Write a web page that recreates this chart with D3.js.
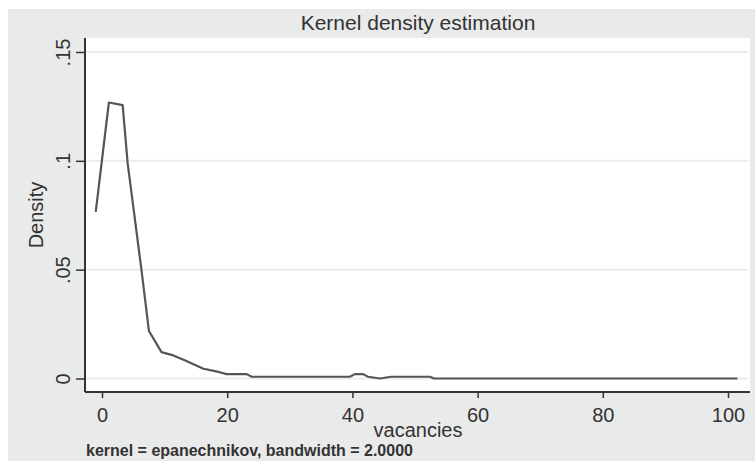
<!DOCTYPE html>
<html>
<head>
<meta charset="utf-8">
<script src="https://cdn.jsdelivr.net/npm/d3@7"></script>
<style>
  body { margin: 0; background: #fff; }
  text { font-family: "Liberation Sans", Arial, sans-serif; fill: #333; }
</style>
</head>
<body>
<div id="my_dataviz"></div>
<script>
// values
let vacancies = [-1, 1.1, 3.3, 4.1, 6.3, 7.5, 9.5, 11.4, 13.3, 16.2, 18.8, 19.9, 23.1, 23.9, 39.6, 40.4, 41.7, 42.5, 44.4, 46.2, 52.4, 53, 101.5];
let density = [0.0765, 0.1268, 0.1256, 0.0988, 0.05, 0.0218, 0.0121, 0.0106, 0.0083, 0.0045, 0.0029, 0.0020, 0.0020, 0.0008, 0.0008, 0.0020, 0.0020, 0.0008, 0.0, 0.0008, 0.0008, 0.0, 0.0];
let xTicks = [0, 20, 40, 60, 80, 100];
let yTicks = [0, 0.05, 0.1, 0.15];
let yTickLabels = ["0", ".05", ".1", ".15"];

let W = 755, H = 461;
let plot = { left: 85, right: 750, top: 38, bottom: 392 };

let svg = d3.select("#my_dataviz")
    .append("svg")
    .attr("width", W)
    .attr("height", H);

// outer gray panel
svg.append("rect")
    .attr("x", 8).attr("y", 9)
    .attr("width", W - 8).attr("height", H - 9)
    .attr("fill", "#e9eaea");

svg.append("rect")
    .attr("x", plot.left).attr("y", plot.top)
    .attr("width", plot.right - plot.left).attr("height", plot.bottom - plot.top)
    .attr("fill", "#ffffff");

let x = d3.scaleLinear()
    .domain([0, 100])
    .range([102, 728]);

let y = d3.scaleLinear()
    .domain([0, 0.15])
    .range([378.5, 52]);

// gridlines
svg.append("g")
    .selectAll("line")
    .data(yTicks)
    .enter()
    .append("line")
    .attr("x1", plot.left + 1)
    .attr("x2", plot.right - 2)
    .attr("y1", d => y(d))
    .attr("y2", d => y(d))
    .attr("stroke", "#e8ecee")
    .attr("stroke-width", 2);

// density curve
let line = d3.line()
    .x((d, i) => x(vacancies[i]))
    .y(d => y(d));

svg.append("path")
    .attr("d", line(density))
    .attr("fill", "none")
    .attr("stroke", "#555")
    .attr("stroke-width", 2.2)
    .attr("stroke-linejoin", "round");

// y axis
let yAxis = svg.append("g")
    .attr("transform", "translate(" + plot.left + ",0)")
    .call(d3.axisLeft(y).tickValues(yTicks).tickSize(9).tickPadding(4)
        .tickFormat((d, i) => yTickLabels[i]));
yAxis.select(".domain").attr("d", "M0," + plot.top + "V" + plot.bottom)
    .attr("stroke", "#333").attr("stroke-width", 2);
yAxis.selectAll("line").attr("stroke", "#333").attr("stroke-width", 1.5);
yAxis.selectAll("text")
    .style("font-size", "20px")
    .attr("fill", "#333")
    .attr("text-anchor", "middle")
    .attr("dy", 0)
    .attr("x", 0)
    .attr("y", 0)
    .attr("transform", "translate(-15,0) rotate(-90)");

// x axis
let xAxis = svg.append("g")
    .attr("transform", "translate(0," + plot.bottom + ")")
    .call(d3.axisBottom(x).tickValues(xTicks).tickSize(6).tickPadding(10));
xAxis.select(".domain").attr("d", "M" + plot.left + ",0H" + plot.right)
    .attr("stroke", "#333").attr("stroke-width", 2);
xAxis.selectAll("line").attr("stroke", "#333").attr("stroke-width", 1.5);
xAxis.selectAll("text").style("font-size", "20px").attr("fill", "#333");

svg.selectAll(".tick text").style("font-family", "'Liberation Sans', Arial, sans-serif");

// titles
svg.append("text")
    .attr("x", 418).attr("y", 30)
    .attr("text-anchor", "middle")
    .style("font-size", "21px")
    .text("Kernel density estimation");

svg.append("text")
    .attr("transform", "translate(43," + ((plot.top + plot.bottom) / 2) + ") rotate(-90)")
    .attr("text-anchor", "middle")
    .style("font-size", "20px")
    .text("Density");

svg.append("text")
    .attr("x", 418).attr("y", 437)
    .attr("text-anchor", "middle")
    .style("font-size", "20px")
    .text("vacancies");

svg.append("text")
    .attr("x", 86).attr("y", 456)
    .style("font-size", "16px")
    .style("font-weight", "bold")
    .attr("fill", "#444")
    .text("kernel = epanechnikov, bandwidth = 2.0000");
</script>
</body>
</html>
